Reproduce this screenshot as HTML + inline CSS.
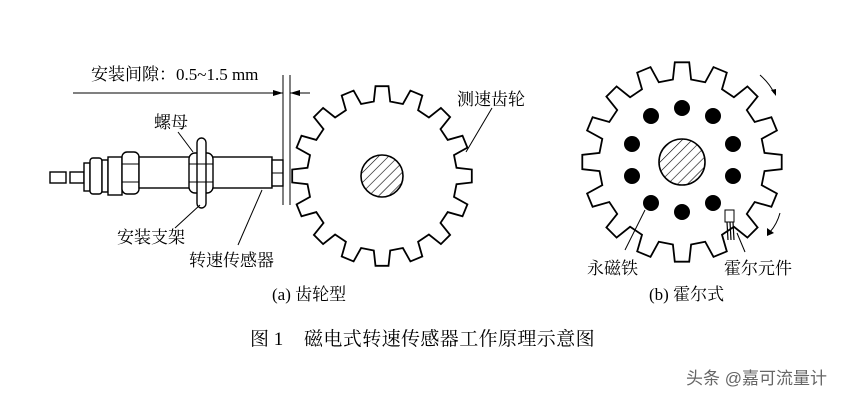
<!DOCTYPE html>
<html><head><meta charset="utf-8"><style>
html,body{margin:0;padding:0;background:#fff;}
svg{display:block;}
text{font-family:"Liberation Serif","Noto Serif CJK SC","Noto Sans CJK SC",serif;fill:#000;}
</style></head><body>
<svg id="s" width="850" height="400" viewBox="0 0 850 400" xmlns="http://www.w3.org/2000/svg">
<defs>
<pattern id="h" width="7" height="7" patternUnits="userSpaceOnUse" patternTransform="rotate(45)">
<line x1="0" y1="0" x2="0" y2="7" stroke="#000" stroke-width="1.2"/>
</pattern>
<marker id="ar" markerWidth="10" markerHeight="6" refX="10" refY="3" orient="auto"><path d="M0,0L10,3L0,6z" fill="#000"/></marker>
</defs>
<g fill="none" stroke="#000" stroke-width="1.8">
<path id="ga"/>
<path id="gb"/>
</g>
<circle cx="382" cy="176" r="21" fill="url(#h)" stroke="#000" stroke-width="1.6"/>
<circle cx="682" cy="162" r="23" fill="url(#h)" stroke="#000" stroke-width="1.6"/>
<g fill="#000">
<circle cx="682" cy="108" r="8"/><circle cx="651" cy="116" r="8"/><circle cx="713" cy="116" r="8"/>
<circle cx="632" cy="144" r="8"/><circle cx="733" cy="144" r="8"/>
<circle cx="632" cy="176" r="8"/><circle cx="733" cy="176" r="8"/>
<circle cx="651" cy="203" r="8"/><circle cx="713" cy="203" r="8"/><circle cx="682" cy="212" r="8"/>
</g>
<rect x="725" y="210" width="9" height="12" fill="#fff" stroke="#000" stroke-width="1"/>
<g stroke="#000" stroke-width="1.2"><line x1="727" y1="222" x2="728" y2="240"/><line x1="730" y1="222" x2="731" y2="240"/><line x1="733" y1="222" x2="734" y2="240"/></g>
<path d="M760,75 Q770,84 774,93" fill="none" stroke="#000" stroke-width="1"/><path d="M771,90l5,6l0,-7z" fill="#000"/>
<path d="M780,213 Q777,224 770,232" fill="none" stroke="#000" stroke-width="1"/><path d="M767,228l0,8l7,-3z" fill="#000"/>
<g stroke="#000" stroke-width="1" fill="none">
<line x1="645" y1="210" x2="625" y2="250"/>
<line x1="737" y1="233" x2="745" y2="252"/>
<line x1="492" y1="108" x2="466" y2="152"/>
</g>
<g fill="#fff" stroke="#000" stroke-width="1.4">
<rect x="50" y="172" width="16" height="11"/>
<rect x="70" y="172" width="14" height="11"/>
<rect x="84" y="163" width="6" height="28"/>
<rect x="90" y="158" width="12" height="36" rx="3"/>
<rect x="102" y="160" width="6" height="32"/>
<rect x="108" y="157" width="14" height="38"/>
<rect x="122" y="152" width="17" height="42" rx="5"/>
<rect x="139" y="157" width="133" height="31"/>
<rect x="272" y="160" width="11" height="26"/>
<rect x="189" y="153" width="24" height="40" rx="6"/>
<rect x="197" y="138" width="9" height="70" rx="4.5"/>
</g>
<g stroke="#000" stroke-width="1" fill="none">
<line x1="122" y1="164" x2="139" y2="164"/><line x1="122" y1="182" x2="139" y2="182"/>
<line x1="189" y1="164" x2="213" y2="164"/><line x1="189" y1="182" x2="213" y2="182"/>
<line x1="272" y1="173" x2="283" y2="173"/>
<line x1="283" y1="75" x2="283" y2="205"/><line x1="290" y1="75" x2="290" y2="205"/>
<line x1="73" y1="93" x2="283" y2="93" marker-end="url(#ar)"/>
<line x1="310" y1="93" x2="290" y2="93" marker-end="url(#ar)"/>
<line x1="178" y1="132" x2="193" y2="152"/>
<line x1="200" y1="205" x2="175" y2="228"/>
<line x1="262" y1="190" x2="238" y2="245"/>
</g>
<g font-size="17">
<text x="91" y="80">安装间隙：0.5~1.5 mm</text>
<text x="154" y="128">螺母</text>
<text x="117" y="243">安装支架</text>
<text x="189" y="266">转速传感器</text>
<text x="457" y="105">测速齿轮</text>
<text x="272" y="300">(a) 齿轮型</text>
<text x="649" y="300">(b) 霍尔式</text>
<text x="587" y="274">永磁铁</text>
<text x="724" y="274">霍尔元件</text>
<text x="250" y="345" font-size="19">图 1</text>
<text x="304" y="345" font-size="19" letter-spacing="0.4">磁电式转速传感器工作原理示意图</text>
</g>
<text x="686" y="384" font-size="17" style="fill:#666;font-family:'Liberation Sans','Noto Sans CJK SC',sans-serif">头条 @嘉可流量计</text>
</svg>
<script>
function gear(cx,cy,R,r,n){
 var d="",p=2*Math.PI/n,tw=0.072,bw=0.11,start=-Math.PI/2;
 for(var i=0;i<n;i++){
  var a=start+i*p;
  var pts=[[r,a-bw],[R,a-tw],[R,a+tw],[r,a+bw]];
  pts.forEach(function(q,j){
   var x=(cx+q[0]*Math.cos(q[1])).toFixed(1),y=(cy+q[0]*Math.sin(q[1])).toFixed(1);
   d+=(i==0&&j==0?"M":"L")+x+","+y;
  });
 }
 return d+"Z";
}
document.getElementById("ga").setAttribute("d",gear(382,176,90,75,16));
document.getElementById("gb").setAttribute("d",gear(682,162,100,83,16));
</script>
</body></html>
